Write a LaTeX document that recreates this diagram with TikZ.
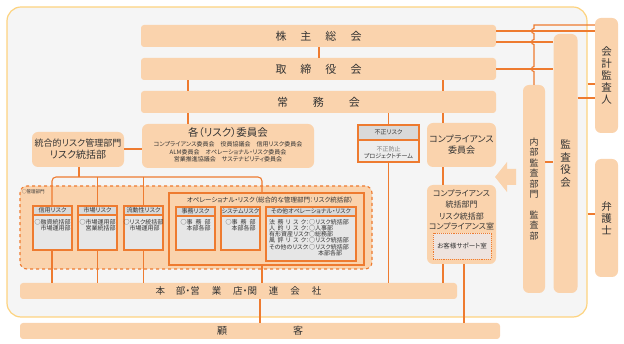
\documentclass[tikz,border=0pt]{standalone}
\usepackage{fontspec}
\setmainfont{Noto Sans CJK JP}[RawFeature=+palt]
\usepackage{tikz}

\definecolor{boxor}{HTML}{FAD3AD}
\definecolor{lineor}{HTML}{EE7B30}
\definecolor{panelbg}{HTML}{F5F5F5}
\definecolor{panelln}{HTML}{FDD37F}
\definecolor{riskgray}{HTML}{E6E6E6}
\definecolor{headgray}{HTML}{D9D9D9}
\definecolor{suppbg}{HTML}{EEE3DE}
\definecolor{txt}{HTML}{333333}

\newcommand{\jlab}[1]{\makebox[37pt][s]{#1}}

\begin{document}
\begin{tikzpicture}[x=1pt,y=-1pt,
  bar/.style={fill=boxor, rounded corners=3pt, inner sep=0pt, text=txt},
  vbar/.style={bar, rounded corners=6pt, align=center},
  link/.style={draw=lineor, line width=1.1pt},
  riskbox/.style={draw=lineor, line width=1.1pt, fill=riskgray, inner sep=0pt},
  riskhead/.style={draw=lineor, line width=1.1pt, fill=headgray, inner sep=0pt,
    anchor=north, text=txt, font=\fontsize{6}{7}\selectfont},
  small/.style={inner sep=0pt, text=txt, align=left, font=\fontsize{6}{6.4}\selectfont},
  big/.style={font=\fontsize{11}{13}\selectfont}]
\useasboundingbox (0,0) rectangle (624,344);

\node[draw=panelln, line width=1.2pt, fill=panelbg, rounded corners=14pt,
  minimum width=580, minimum height=310, inner sep=0pt] (panel) at (297,162) {};

\node[bar, big, minimum width=355, minimum height=22] (kabu) at (318.5,36)
  {株\hspace{14pt}主\hspace{14pt}総\hspace{14pt}会};
\node[bar, big, minimum width=355, minimum height=22] (tori) at (318.5,69)
  {取\hspace{14pt}締\hspace{14pt}役\hspace{14pt}会};
\node[bar, big, minimum width=355, minimum height=22] (jomu) at (318.5,102)
  {常\hspace{25pt}務\hspace{25pt}会};

\node[bar, rounded corners=6pt, minimum width=92, minimum height=35, align=center] (togo) at (78,149.5)
  {{\fontsize{9}{13}\selectfont 統合的リスク管理部門}\\{\fontsize{10}{13}\selectfont リスク統括部}};

\node[bar, rounded corners=6pt, minimum width=172, minimum height=44] (iinkai) at (228,146) {};
\node[inner sep=0pt, text=txt, font=\fontsize{10.5}{12}\selectfont] (iinkaittl) at (228,133) {各（リスク）委員会};
\node[small, align=center, font=\fontsize{6}{7.5}\selectfont] (iinkailst) at (228,152)
  {コンプライアンス委員会\quad 役員協議会\quad 信用リスク委員会\\
   ALM委員会\quad オペレーショナル・リスク委員会\\
   営業推進協議会\quad サステナビリティ委員会};

\node[riskbox, fill=riskgray!70!white, minimum width=61, minimum height=37] (fusei) at (388.5,143.5) {};
\node[riskhead, minimum width=61, minimum height=15] (fuseih) at (fusei.north) {不正リスク};
\node[small, align=center] (fuseitxt) at (388.5,152.5) {{\color{gray}不正防止}\\プロジェクトチーム};

\node[bar, rounded corners=6pt, minimum width=69, minimum height=44, align=center,
  font=\fontsize{9}{11}\selectfont] (compiin) at (461.5,145) {コンプライアンス\\委員会};
\node[bar, rounded corners=6pt, minimum width=69, minimum height=79] (compbu) at (461.5,224.5) {};
\node[inner sep=0pt, text=txt, align=center, font=\fontsize{8}{10.5}\selectfont] (compbutxt) at (461.5,210)
  {コンプライアンス\\統括部門\\[1.5pt]リスク統括部\\コンプライアンス室};
\node[draw=lineor, densely dotted, line width=0.9pt, fill=suppbg, minimum width=58, minimum height=26,
  inner sep=0pt, text=txt, font=\fontsize{6.5}{8}\selectfont] (support) at (462,246) {お客様サポート室};

\node[draw=lineor, dashed, line width=1.1pt, fill=boxor, rounded corners=7pt,
  minimum width=352, minimum height=83, inner sep=0pt] (kanri) at (196,227.5) {};
\node[inner sep=0pt, anchor=west, text=txt, font=\fontsize{4.5}{5}\selectfont] (kanrittl) at (22,192) {○管理部門};

\node[riskbox, minimum width=39, minimum height=44] (shinyo) at (52.5,228) {};
\node[riskhead, minimum width=39, minimum height=9] (shinyoh) at (shinyo.north) {信用リスク};
\node[small] (shinyotxt) at (52.5,225) {○融資統括部\\　市場運用部};
\node[riskbox, minimum width=39, minimum height=44] (shijo) at (97.5,228) {};
\node[riskhead, minimum width=39, minimum height=9] (shijoh) at (shijo.north) {市場リスク};
\node[small] (shijotxt) at (97.5,225) {○市場運用部\\　営業統括部};
\node[riskbox, minimum width=39, minimum height=44] (ryudo) at (143.5,228) {};
\node[riskhead, minimum width=39, minimum height=9] (ryudoh) at (ryudo.north) {流動性リスク};
\node[small] (ryudotxt) at (143.5,225) {○リスク統括部\\　市場運用部};

\node[draw=lineor, line width=1.6pt, fill=boxor, minimum width=195, minimum height=72, inner sep=0pt] (oprisk) at (266.5,229) {};
\node[inner sep=0pt, text=txt, font=\fontsize{6.5}{7}\selectfont] (opriskttl) at (270,200)
  {オペレーショナル・リスク（総合的な管理部門：リスク統括部）};

\node[riskbox, minimum width=39, minimum height=43] (jimu) at (195.5,228.5) {};
\node[riskhead, minimum width=39, minimum height=9] (jimuh) at (jimu.north) {事務リスク};
\node[small] (jimutxt) at (195.5,225)
  {○事\hspace{3pt}務\hspace{3pt}部\\\hspace{6pt}本部各部};
\node[riskbox, minimum width=39, minimum height=43] (system) at (240.5,228.5) {};
\node[riskhead, minimum width=39, minimum height=9] (systemh) at (system.north) {システムリスク};
\node[small] (systemtxt) at (240.5,225)
  {○事\hspace{3pt}務\hspace{3pt}部\\\hspace{6pt}本部各部};
\node[riskbox, minimum width=90, minimum height=54] (sonota) at (311,234) {};
\node[riskhead, minimum width=90, minimum height=9] (sonotah) at (sonota.north) {その他オペレーショナル・リスク};
\node[small, anchor=north west, font=\fontsize{6}{6.2}\selectfont] (sonotatxt) at (269,219)
  {\jlab{法\hfill 務\hfill リ\hfill ス\hfill ク}：○リスク統括部\\
   \jlab{人\hfill 的\hfill リ\hfill ス\hfill ク}：○人事部\\
   \jlab{有形資産リスク}：○総務部\\
   \jlab{風\hfill 評\hfill リ\hfill ス\hfill ク}：○リスク統括部\\
   \jlab{その他のリスク}：○リスク統括部\\
   \hspace{49pt}本部各部};

\node[bar, minimum width=437, minimum height=16, font=\fontsize{9.5}{11}\selectfont] (honbu) at (238.5,291)
  {本\hspace{11pt}部・営\hspace{12pt}業\hspace{12pt}店・関\hspace{12pt}連\hspace{12pt}会\hspace{12pt}社};
\node[bar, minimum width=480, minimum height=16, font=\fontsize{10}{11}\selectfont] (kokyaku) at (260,331)
  {顧\hspace{66pt}客};

\node[vbar, minimum width=22, minimum height=208, font=\fontsize{9}{10.5}\selectfont] (naibu) at (534,189)
  {内\\部\\監\\査\\部\\門\\[10pt]監\\査\\部};
\node[vbar, minimum width=24, minimum height=259, font=\fontsize{10.5}{12.5}\selectfont] (kansa) at (565.5,163.5)
  {監\\査\\役\\会};
\node[vbar, minimum width=23, minimum height=115, font=\fontsize{10.5}{12}\selectfont] (kaikei) at (606.5,75.5)
  {会\\計\\監\\査\\人};
\node[vbar, minimum width=23, minimum height=118, font=\fontsize{10.5}{12}\selectfont] (bengo) at (606.5,218)
  {弁\\護\\士};

\fill[boxor] (495,177) -- (507,162) -- (507,169) -- (516,169) -- (516,185) -- (507,185) -- (507,192) -- cycle;

\draw[link] (kabu.south -| 319,0) -- (tori.north -| 319,0);
\draw[link] (tori.south -| 188,0) -- (jomu.north -| 188,0);
\draw[link] (jomu.south -| 188,0) -- (iinkai.north -| 188,0);
\draw[link] (tori.south -| 443,0) -- (jomu.north -| 443,0);
\draw[link] (jomu.south -| 443,0) -- (compiin.north -| 443,0);
\draw[link] (fusei.north) -- (fusei.north |- jomu.south);
\draw[link] (togo.east |- 0,149) -- (iinkai.west |- 0,149);
\draw[link] (togo.south -| 79,0) -- (79,177);
\draw[link, rounded corners=4pt] (shinyo.north -| 52,0) -- (52,177) -- (262,177) -- (oprisk.north -| 262,0);
\draw[link] (97.5,177) -- (shijo.north);
\draw[link] (143.5,177) -- (ryudo.north);
\draw[link] (shinyo.south -| 52,0) -- (honbu.north -| 52,0);
\draw[link] (shijo.south) -- (shijo.south |- honbu.north);
\draw[link] (ryudo.south) -- (ryudo.south |- honbu.north);
\draw[link] (oprisk.south -| 262,0) -- (honbu.north -| 262,0);
\draw[link] (fusei.south) -- (fusei.south |- honbu.north);
\draw[link] (compiin.south -| 443,0) -- (compbu.north -| 443,0);
\draw[link] (compbu.south -| 443,0) -- (honbu.north -| 443,0);
\draw[link] (compbu.south -| 464,0) -- (kokyaku.north -| 464,0);
\draw[link] (honbu.south -| 260,0) -- (kokyaku.north -| 260,0);

\draw[link] (kabu.east |- 0,31) -- (kaikei.west |- 0,31);
\draw[link] (kabu.east |- 0,42) -- (kansa.west |- 0,42);
\draw[link] (tori.east |- 0,69) -- (kansa.west |- 0,69);
\draw[link] (kaikei.west |- 0,25) -- (534,25) -- (534,28.5)
  to[out=180,in=180,looseness=1.7] (534,33.5) -- (534,39.5)
  to[out=180,in=180,looseness=1.7] (534,44.5) -- (534,66.5)
  to[out=180,in=180,looseness=1.7] (534,71.5) -- (naibu.north);
\draw[link] (panel.east |- 0,84) -- (kaikei.west |- 0,84);
\draw[link] (kansa.east |- 0,98) -- (kaikei.west |- 0,98);
\draw[link] (panel.east |- 0,214) -- (bengo.west |- 0,214);
\draw[link] (naibu.east |- 0,162) -- (kansa.west |- 0,162);
\end{tikzpicture}
\end{document}
